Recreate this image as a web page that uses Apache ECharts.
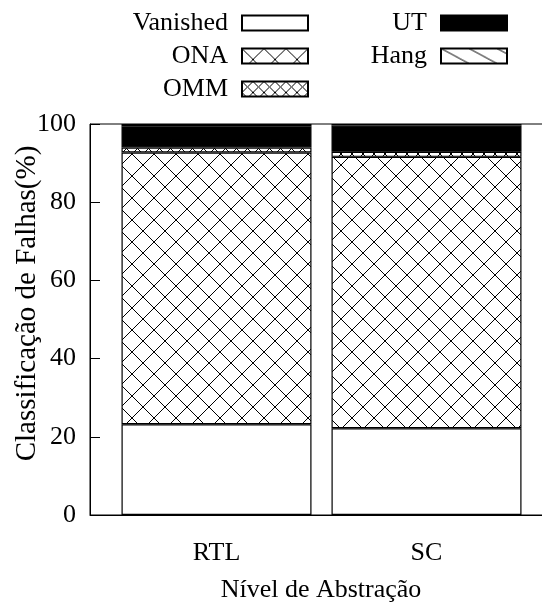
<!DOCTYPE html>
<html>
<head>
<meta charset="utf-8">
<script src="https://cdn.jsdelivr.net/npm/echarts@6/dist/echarts.min.js"></script>
<style>
html,body{margin:0;padding:0;background:#fff;}
#chart{width:542px;height:608px;}
</style>
</head>
<body>
<div id="chart"></div>
<script>
// Data
var categories = ['RTL', 'SC'];
var seriesNames = ['Vanished', 'ONA', 'OMM', 'UT', 'Hang'];
var vanished = [23.2, 22.2];
var ona = [69.5, 69.4];
var omm = [1.3, 1.3];
var ut = [5.4, 6.7];
var hang = [0.6, 0.4];
var yTicks = [0, 20, 40, 60, 80, 100];

function makePattern(w, h, drawFn) {
  var c = document.createElement('canvas');
  c.width = w; c.height = h;
  var ctx = c.getContext('2d');
  ctx.fillStyle = '#fff';
  ctx.fillRect(0, 0, w, h);
  ctx.strokeStyle = '#000';
  ctx.lineWidth = 1;
  drawFn(ctx, w, h);
  return { image: c, repeat: 'repeat' };
}
function cross(ctx, w, h) {
  ctx.beginPath();
  ctx.moveTo(0, 0); ctx.lineTo(w, h);
  ctx.moveTo(w, 0); ctx.lineTo(0, h);
  ctx.stroke();
}
var onaPattern = makePattern(22, 22, cross);
var ommPattern = makePattern(11, 11, cross);
var hangPattern = makePattern(28, 15, function (ctx, w, h) {
  ctx.beginPath();
  ctx.moveTo(0, 0); ctx.lineTo(w, h);
  ctx.stroke();
});

var colors = ['#ffffff', onaPattern, ommPattern, '#000000', hangPattern];
var values = [vanished, ona, omm, ut, hang];

var font = 'Liberation Serif';
var FS = 26;
var series = seriesNames.map(function (name, i) {
  return {
    name: name,
    type: 'bar',
    stack: 'total',
    barWidth: 190,
    xAxisIndex: 1,
    yAxisIndex: 1,
    data: values[i],
    itemStyle: { color: colors[i], borderColor: '#000', borderWidth: 1.2 },
    emphasis: { disabled: true },
    animation: false
  };
});

var chart = echarts.init(document.getElementById('chart'), null, { renderer: 'canvas' });
var legendCommon = {
  orient: 'vertical',
  align: 'right',
  top: 5,
  itemWidth: 66,
  itemHeight: 15,
  itemGap: 7,
  selectedMode: false,
  icon: 'rect',
  textStyle: { fontFamily: font, fontSize: FS, color: '#000', lineHeight: 26, padding: [0, 9, 0, 0] }
};
var hiddenAxis = {
  axisLine: { show: false }, axisTick: { show: false },
  axisLabel: { show: false }, splitLine: { show: false }
};
chart.setOption({
  animation: false,
  backgroundColor: '#fff',
  legend: [
    Object.assign({}, legendCommon, { right: 228, data: ['Vanished', 'ONA', 'OMM'] }),
    Object.assign({}, legendCommon, { right: 29, data: ['UT', 'Hang'] })
  ],
  grid: [
    { left: 90, top: 124, width: 462, height: 391, outerBoundsMode: 'none', containLabel: false,
      show: true, borderColor: '#000', borderWidth: 1, backgroundColor: 'transparent' },
    { left: 111.5, top: 124, width: 420, height: 391, outerBoundsMode: 'none', containLabel: false },
    { left: 90, top: 108, width: 462, height: 391, outerBoundsMode: 'none', containLabel: false }
  ],
  xAxis: [
    {
      gridIndex: 0,
      type: 'value',
      min: 0, max: 1,
      name: 'Nível de Abstração',
      nameLocation: 'middle',
      nameGap: 62,
      nameTextStyle: { fontFamily: font, fontSize: FS, color: '#000' },
      axisLine: { show: true, onZero: false, lineStyle: { color: '#000', width: 1 } },
      axisTick: { show: false },
      splitLine: { show: false },
      axisLabel: { show: false }
    },
    {
      gridIndex: 1,
      type: 'category',
      data: categories,
      axisLine: { show: false },
      axisTick: { show: false },
      splitLine: { show: false },
      axisLabel: { fontFamily: font, fontSize: FS, color: '#000', margin: 25 }
    },
    Object.assign({ gridIndex: 2, type: 'value', min: 0, max: 1 }, hiddenAxis)
  ],
  yAxis: [
    {
      gridIndex: 0,
      type: 'value',
      min: yTicks[0], max: yTicks[yTicks.length - 1], interval: 20,
      axisLine: { show: true, onZero: false, lineStyle: { color: '#000', width: 1 } },
      axisTick: { show: true, inside: true, length: 10, lineStyle: { color: '#000' } },
      splitLine: { show: false },
      axisLabel: { fontFamily: font, fontSize: FS, color: '#000', margin: 14 }
    },
    {
      gridIndex: 1,
      type: 'value',
      min: yTicks[0], max: yTicks[yTicks.length - 1],
      show: false,
      splitLine: { show: false }
    },
    Object.assign({
      gridIndex: 2,
      type: 'value',
      min: 0, max: 1,
      name: 'Classificação de Falhas(%)',
      nameLocation: 'middle',
      nameGap: 48,
      nameTextStyle: { fontFamily: font, fontSize: 29, color: '#000' }
    }, hiddenAxis)
  ],
  series: series
});
</script>
</body>
</html>
